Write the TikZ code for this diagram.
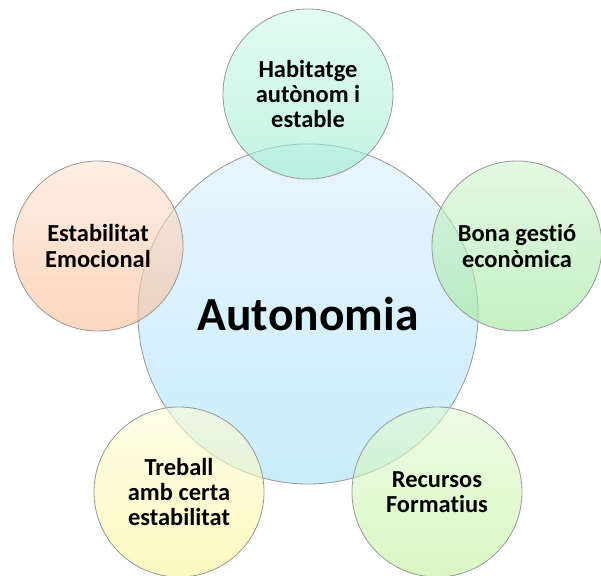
\documentclass[tikz,border=0pt]{standalone}
\usepackage{fontspec}
\setmainfont{Carlito}[Ligatures={NoCommon,NoContextual}]
\definecolor{vennline}{HTML}{9A9A9A}
\definecolor{autotop}{HTML}{DAEEFC}
\definecolor{autobot}{HTML}{A5E1F8}
\definecolor{habtop}{HTML}{CFF8E9}
\definecolor{habbot}{HTML}{9BEDCF}
\definecolor{esttop}{HTML}{FDE3D2}
\definecolor{estbot}{HTML}{FABB94}
\definecolor{bonatop}{HTML}{D0F5CF}
\definecolor{bonabot}{HTML}{9EE69B}
\definecolor{trebtop}{HTML}{FDFDD9}
\definecolor{trebbot}{HTML}{FAF596}
\definecolor{rectop}{HTML}{E3FAD2}
\definecolor{recbot}{HTML}{C1F29D}
\usepackage{tikz}

\tikzset{
  venn/.style={circle, draw=vennline, line width=0.6pt,
    fill opacity=0.6, text opacity=1, inner sep=0pt,
    minimum size=4.25cm, align=center,
    font=\bfseries\fontsize{17.4}{17.8}\selectfont},
  centre/.style={venn, minimum size=8.5cm,
    font=\bfseries\fontsize{33.8}{36}\selectfont},
}

\begin{document}
\begin{tikzpicture}[x=0.025cm, y=0.025cm]
    \useasboundingbox (0,0) rectangle (601,575);
    % Centre circle: r = 170
    \node[centre, top color=autotop, bottom color=autobot]
      (auto) at (308,261) {Autonomia};
    % Top
    \node[venn, top color=habtop, bottom color=habbot]
      (habit) at (308,481) {Habitatge\\aut\`onom i\\estable};
    % Left
    \node[venn, top color=esttop, bottom color=estbot]
      (estab) at (98,329) {Estabilitat\\Emocional};
    % Right
    \node[venn, top color=bonatop, bottom color=bonabot]
      (gestio) at (517,329) {Bona gesti\'o\\econ\`omica};
    % Bottom left
    \node[venn, top color=trebtop, bottom color=trebbot]
      (treball) at (179,83) {Treball\\amb certa\\estabilitat};
    % Bottom right
    \node[venn, top color=rectop, bottom color=recbot]
      (recurs) at (437,83) {Recursos\\Formatius};
  \end{tikzpicture}
\end{document}
